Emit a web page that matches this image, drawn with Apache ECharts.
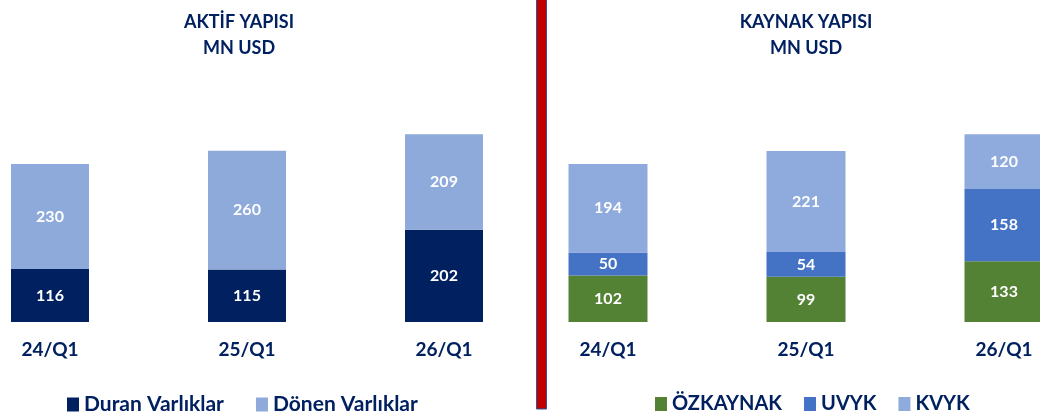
<!DOCTYPE html>
<html>
<head>
<meta charset="utf-8">
<script src="https://cdn.jsdelivr.net/npm/echarts@6/dist/echarts.min.js"></script>
<style>
  html, body { margin: 0; padding: 0; background: #fff; }
  #chart { width: 1040px; height: 417px; }
</style>
</head>
<body>
<div id="chart"></div>
<script>
// periods shared by both panels
var categories = ['24/Q1', '25/Q1', '26/Q1']

// AKTİF YAPISI (MN USD)
var duranVarliklar = [116, 115, 202]
var donenVarliklar = [230, 260, 209]

// KAYNAK YAPISI (MN USD)
var ozkaynak = [102, 99, 133]
var uvyk = [50, 54, 158]
var kvyk = [194, 221, 120]

var NAVY = '#002060'
var FONT = 'Lato, "Open Sans", sans-serif'

var chart = echarts.init(document.getElementById('chart'))

function barLabel() {
  return {
    show: true,
    position: 'inside',
    color: '#fff',
    fontWeight: 'bold',
    fontSize: 16,
    fontFamily: FONT
  }
}

function catAxis(idx) {
  return {
    type: 'category',
    gridIndex: idx,
    data: categories,
    axisLine: { show: false },
    axisTick: { show: false },
    axisLabel: {
      color: NAVY,
      fontWeight: 'bold',
      fontSize: 19,
      fontFamily: FONT,
      margin: 18
    }
  }
}

function valAxis(idx) {
  return {
    type: 'value',
    gridIndex: idx,
    min: 0,
    max: 500,
    show: false,
    splitLine: { show: false }
  }
}

function legendStyle(size) {
  return { color: NAVY, fontWeight: 'bold', fontSize: size, fontFamily: FONT }
}

chart.setOption({
  animation: false,
  textStyle: { fontFamily: FONT },
  graphic: [
    {
      type: 'text', x: 239, y: 9,
      style: {
        text: 'AKTİF YAPISI\nMN USD', align: 'center', verticalAlign: 'top',
        fill: NAVY, font: 'bold 18px ' + FONT, lineHeight: 26
      }
    },
    {
      type: 'text', x: 806, y: 9,
      style: {
        text: 'KAYNAK YAPISI\nMN USD', align: 'center', verticalAlign: 'top',
        fill: NAVY, font: 'bold 18px ' + FONT, lineHeight: 26
      }
    },
    {
      // red divider between the two panels
      type: 'rect',
      shape: { x: 536.5, y: -2, width: 10, height: 411 },
      style: { fill: '#c00000', stroke: '#2f5597', lineWidth: 1 }
    }
  ],
  legend: [
    {
      data: ['Duran Varlıklar', 'Dönen Varlıklar'],
      left: 62, top: 389,
      itemWidth: 12, itemHeight: 14, itemGap: 32,
      icon: 'rect',
      textStyle: legendStyle(21)
    },
    {
      data: ['ÖZKAYNAK', 'UVYK', 'KVYK'],
      left: 650, top: 389,
      itemWidth: 12, itemHeight: 14, itemGap: 22,
      icon: 'rect',
      textStyle: legendStyle(20)
    }
  ],
  grid: [
    { left: -48.5, width: 591, top: 93.5, height: 228.5, outerBoundsMode: 'none' },
    { left: 509, width: 594, top: 93.5, height: 228.5, outerBoundsMode: 'none' }
  ],
  xAxis: [catAxis(0), catAxis(1)],
  yAxis: [valAxis(0), valAxis(1)],
  series: [
    {
      name: 'Duran Varlıklar', type: 'bar', stack: 'aktif',
      xAxisIndex: 0, yAxisIndex: 0, barWidth: 78,
      itemStyle: { color: NAVY }, label: barLabel(),
      data: duranVarliklar
    },
    {
      name: 'Dönen Varlıklar', type: 'bar', stack: 'aktif',
      xAxisIndex: 0, yAxisIndex: 0, barWidth: 78,
      itemStyle: { color: '#8eaadb' }, label: barLabel(),
      data: donenVarliklar
    },
    {
      name: 'ÖZKAYNAK', type: 'bar', stack: 'kaynak',
      xAxisIndex: 1, yAxisIndex: 1, barWidth: 79,
      itemStyle: { color: '#548235' }, label: barLabel(),
      data: ozkaynak
    },
    {
      name: 'UVYK', type: 'bar', stack: 'kaynak',
      xAxisIndex: 1, yAxisIndex: 1, barWidth: 79,
      itemStyle: { color: '#4472c4' }, label: barLabel(),
      data: uvyk
    },
    {
      name: 'KVYK', type: 'bar', stack: 'kaynak',
      xAxisIndex: 1, yAxisIndex: 1, barWidth: 79,
      itemStyle: { color: '#8faadc' }, label: barLabel(),
      data: kvyk
    }
  ]
})
</script>
</body>
</html>
